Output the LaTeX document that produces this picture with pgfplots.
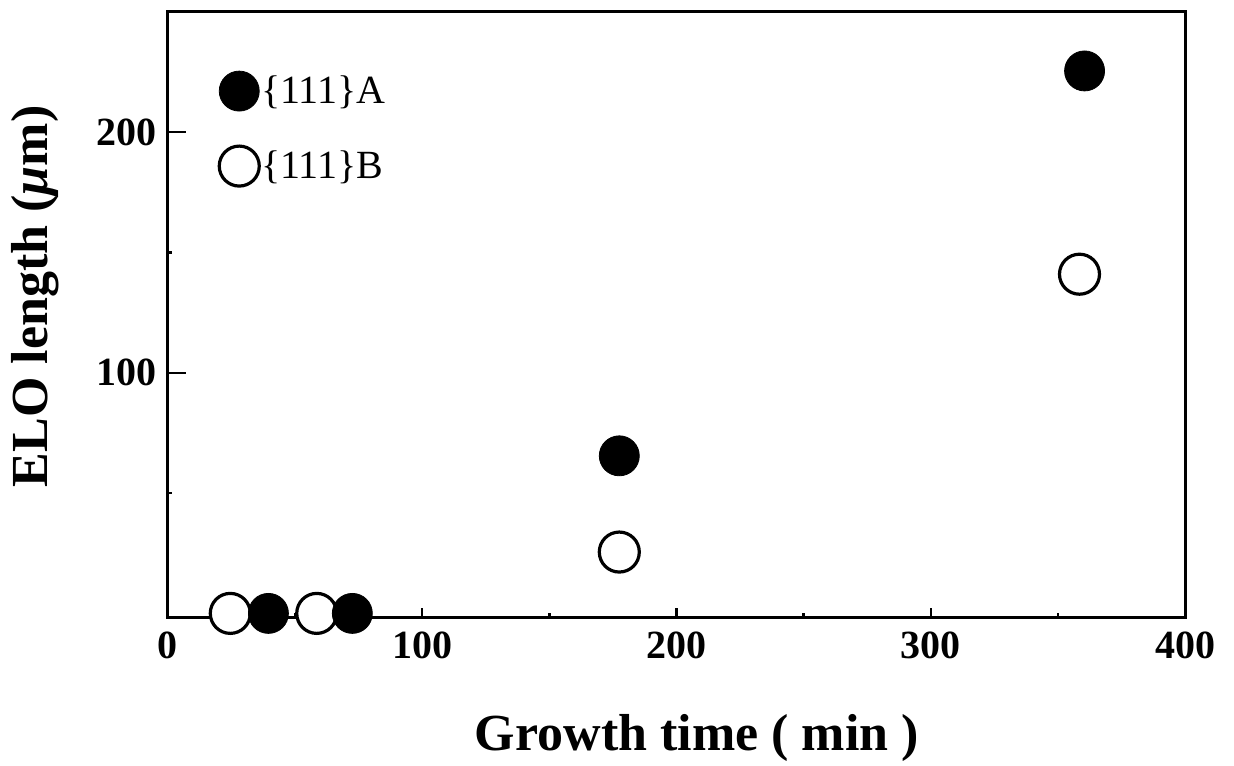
\documentclass[border=0pt]{standalone}
\usepackage{pgfplots}
\pgfplotsset{compat=1.18}
\usepackage{fontspec}
\setmainfont{Liberation Serif}
\begin{document}
\begin{tikzpicture}
\begin{axis}[
  scale only axis, width=508.5pt, height=302.5pt,
  xmin=0, xmax=400, ymin=-1.5, ymax=250,
  xtick={0,100,200,300,400}, ytick={100,200},
  minor xtick={50,150,250,350}, minor ytick={50,150},
  xtick pos=bottom, ytick pos=left,
  tick align=inside,
  major tick length=4.5pt, minor tick length=2pt,
  x tick style={line width=1.2pt, black},
  y tick style={line width=1.2pt, black},
  extra y ticks={100,200}, extra y tick labels={},
  extra y tick style={major tick length=9pt, tick style={line width=1.2pt, black}},
  axis line style={line width=1.5pt},
  /pgf/number format/assume math mode=true,
  ticklabel style={font=\bfseries\fontsize{20}{24}\selectfont},
  yticklabel style={xshift=-2pt},
  xticklabel style={yshift=-4pt},
  xlabel={Growth time ( min )},
  ylabel={ELO length (\textit{μ}m)},
  xlabel style={font=\bfseries\fontsize{26}{30}\selectfont, at={([yshift=-60.5pt]axis description cs:0.52,0)}, anchor=center},
  ylabel style={font=\bfseries\fontsize{26}{30}\selectfont, at={([xshift=-66.5pt]axis description cs:0,0.53)}, anchor=center},
  clip=false,
  reverse legend,
  legend cell align=left,
  legend image code/.code={\draw[#1] plot coordinates {(0pt,0pt)};},
  legend style={at={(rel axis cs:0.05,0.903)}, anchor=north west, draw=none, fill=none,
    font=\fontsize{20}{24}\selectfont, row sep=17.5pt, inner sep=0pt,
    nodes={inner sep=1pt}},
]
\addplot[only marks, mark=*, mark size=10pt, mark options={fill=white, draw=black, line width=1.6pt}]
  coordinates {(24.5,0) (58.5,0) (177.5,25.5) (358.5,141)};
\addlegendentry{\{111\}B}
\addplot[only marks, mark=*, mark size=10pt, mark options={fill=black, draw=black}]
  coordinates {(39.5,0) (72.5,0) (177.5,65.5) (360.5,225.5)};
\addlegendentry{\{111\}A}
\end{axis}
\pgfresetboundingbox
\path ([xshift=-84pt,yshift=-74pt]current axis.south west) rectangle ([xshift=24.5pt,yshift=6pt]current axis.north east);
\end{tikzpicture}
\end{document}
